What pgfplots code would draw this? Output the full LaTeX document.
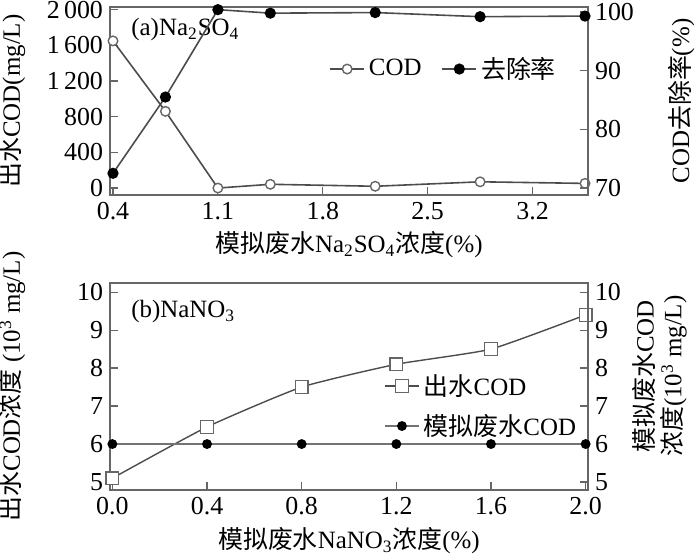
\documentclass[border=0pt]{standalone}
\usepackage{fontspec}
\setmainfont{Liberation Serif}
\newfontfamily\cjk{Noto Sans CJK SC}
\usepackage{pgfplots}
\pgfplotsset{compat=1.18}

\pgfplotsset{
  panel/.style={
    scale only axis, width=239bp,
    axis line style={black!60, line width=0.9pt},
    tick style={black!60, line width=0.6pt},
    tick align=inside, major tick length=4bp,
    tick label style={font=\fontsize{13}{14}\selectfont},
    label style={font=\fontsize{12.5}{14}\selectfont},
    /pgf/number format/assume math mode=true,
    legend style={draw=none, fill=none, font=\fontsize{12.5}{14}\selectfont},
  },
  codline/.style={black!70, line width=0.8pt, mark=*, mark size=2.4pt,
    mark options={fill=white, draw=black!60, line width=0.7pt}},
  rateline/.style={black!70, line width=0.8pt, mark=*, mark size=2.4pt,
    mark options={fill=black, draw=black}},
  sqline/.style={black!70, line width=0.7pt, mark=square*, mark size=3.2pt,
    mark options={fill=white, draw=black!60, line width=0.7pt}},
  simline/.style={black!55, line width=0.9pt, mark=*, mark size=2pt,
    mark options={fill=black, draw=black}},
}

\begin{document}
\begin{tikzpicture}
\useasboundingbox (0,0) rectangle (350bp,-277.5bp);

% ---- (a) Na2SO4 ----
\begin{axis}[panel, at={(55bp,-3.5bp)}, anchor=north west, height=94bp,
  xmin=0.38, xmax=3.57, ymin=-78, ymax=2030,
  xtick={0.4,1.1,1.8,2.5,3.2}, xticklabels={0.4,1.1,1.8,2.5,3.2},
  ytick={0,400,800,1200,1600,2000},
  yticklabels={0,400,800,1\,200,1\,600,2\,000},
  xtick pos=bottom, ytick pos=left,
  xlabel={{\cjk 模拟废水}Na\textsubscript{2}SO\textsubscript{4}{\cjk 浓度}(\%)},
  xlabel style={at={(axis description cs:0.5,-0.265)}, anchor=center},
  ylabel={{\cjk 出水}COD(mg/L)},
  ylabel style={at={(axis description cs:-0.205,0.5)}, anchor=center},
]
\addplot[codline] coordinates {
  (0.4,1650) (0.75,860) (1.1,0) (1.45,42) (2.15,20) (2.85,70) (3.55,52)
};
\node[anchor=west, font=\fontsize{12.5}{14}\selectfont]
  at (axis description cs:0.03,0.88) {(a)Na\textsubscript{2}SO\textsubscript{4}};
\end{axis}
\begin{axis}[panel, at={(55bp,-3.5bp)}, anchor=north west, height=94bp,
  xmin=0.38, xmax=3.57, ymin=68.8, ymax=100.85,
  axis y line*=right, axis x line=none,
  ytick={70,80,90,100},
  ylabel={COD{\cjk 去除率}(\%)},
  ylabel style={at={(axis description cs:1.195,0.5)}, anchor=center, rotate=0},
  legend columns=2,
  legend style={at={(axis description cs:0.70,0.67)}, anchor=center,
    /tikz/every even column/.append style={column sep=8bp}},
]
\addlegendimage{codline}
\addlegendentry{COD}
\addplot[rateline] coordinates {
  (0.4,72.5) (0.75,85.5) (1.1,100.4) (1.45,99.8) (2.15,99.9) (2.85,99.2) (3.55,99.3)
};
\addlegendentry{{\cjk 去除率}}
\end{axis}

% ---- (b) NaNO3 ----
\begin{axis}[panel, at={(55bp,-141.5bp)}, anchor=north west, height=103.5bp,
  xmin=-0.01, xmax=2.01, ymin=4.79, ymax=10.24,
  xtick={0,0.4,0.8,1.2,1.6,2.0}, xticklabels={0.0,0.4,0.8,1.2,1.6,2.0},
  ytick={5,6,7,8,9,10},
  xtick pos=bottom, ytick pos=left,
  xlabel={{\cjk 模拟废水}NaNO\textsubscript{3}{\cjk 浓度}(\%)},
  xlabel style={at={(axis description cs:0.5,-0.245)}, anchor=center},
  ylabel={{\cjk 出水}COD{\cjk 浓度} (10\textsuperscript{3} mg/L)},
  ylabel style={at={(axis description cs:-0.205,0.5)}, anchor=center},
]
\addplot[sqline, smooth, tension=0.3] coordinates {
  (0,5.1) (0.4,6.45) (0.8,7.5) (1.2,8.1) (1.6,8.5) (2.0,9.4)
};
\node[anchor=west, font=\fontsize{12.5}{14}\selectfont]
  at (axis description cs:0.03,0.86) {(b)NaNO\textsubscript{3}};
\end{axis}
\begin{axis}[panel, at={(55bp,-141.5bp)}, anchor=north west, height=103.5bp,
  xmin=-0.01, xmax=2.01, ymin=4.79, ymax=10.24,
  axis y line*=right, axis x line=none,
  ytick={5,6,7,8,9,10},
  ylabel={{\cjk 模拟废水}COD\\{\cjk 浓度}(10\textsuperscript{3} mg/L)},
  ylabel style={at={(axis description cs:1.15,0.55)}, anchor=center, rotate=0,
    align=center},
  legend cell align=left,
  legend style={at={(axis description cs:0.56,0.60)}, anchor=north west,
    row sep=4bp},
]
\addlegendimage{sqline}
\addlegendentry{{\cjk 出水}COD}
\addplot[simline] coordinates {
  (0,6) (0.4,6) (0.8,6) (1.2,6) (1.6,6) (2.0,6)
};
\addlegendentry{{\cjk 模拟废水}COD}
\end{axis}
\end{tikzpicture}
\end{document}
